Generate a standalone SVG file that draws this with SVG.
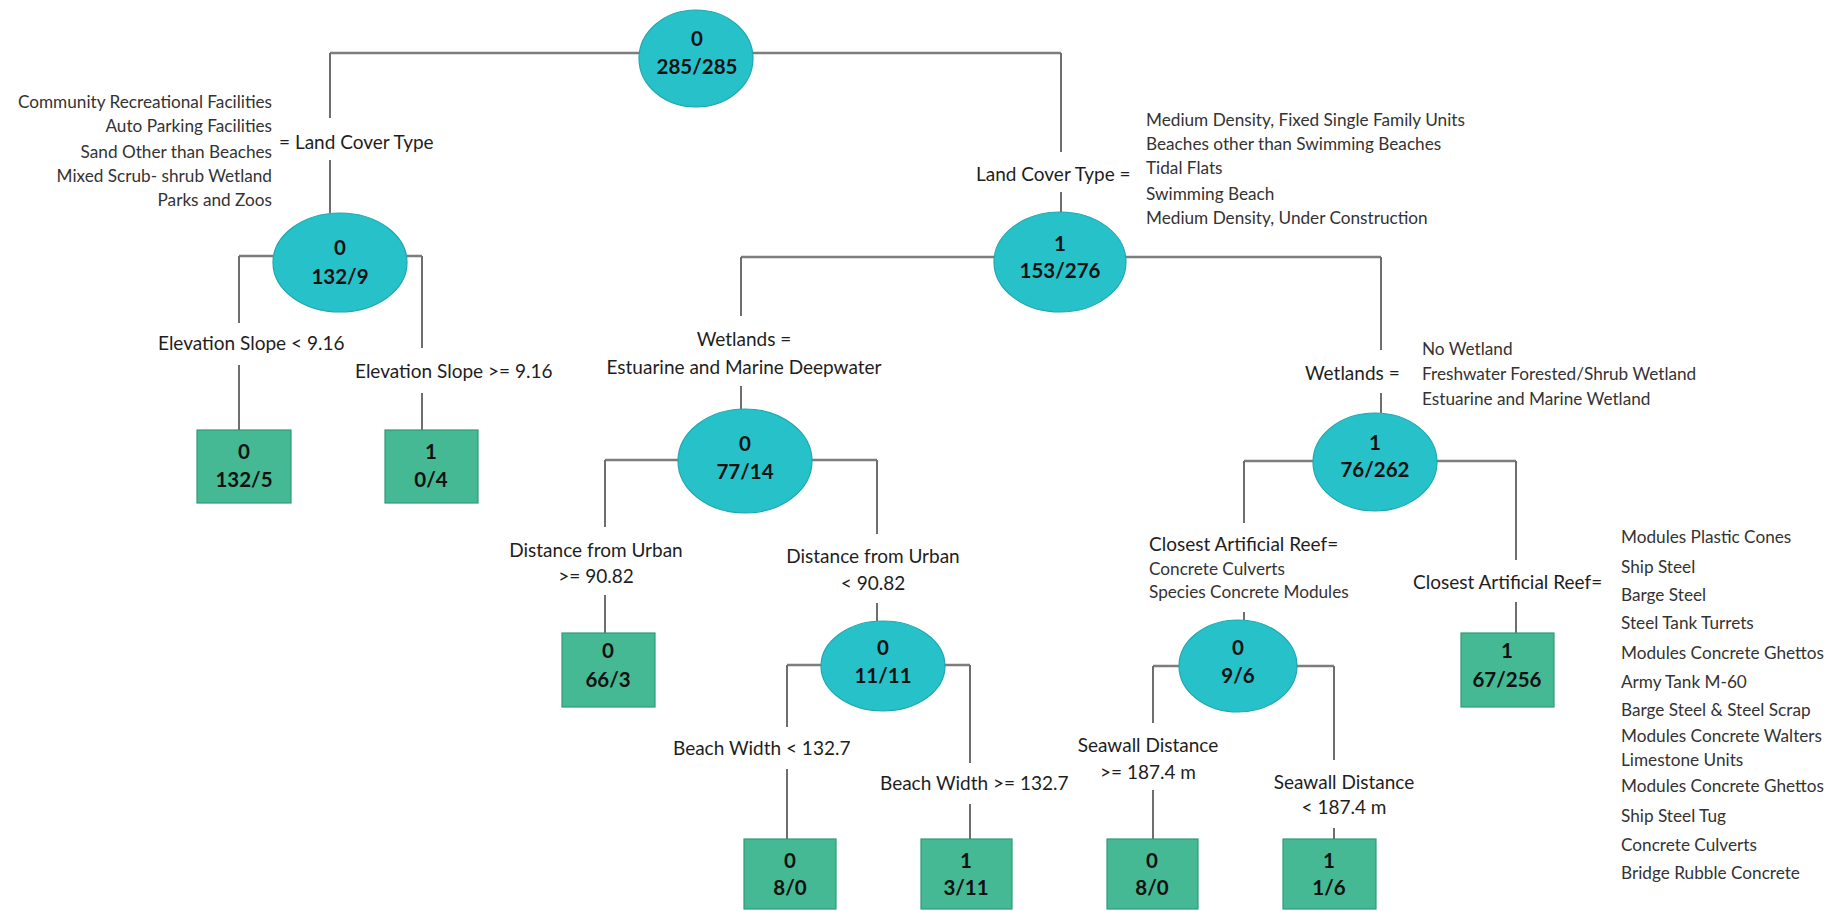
<svg xmlns="http://www.w3.org/2000/svg" width="1847" height="911" viewBox="0 0 1847 911">
<style>
.bg{fill:#ffffff}
.ln{stroke:#6e6e6e;stroke-width:2;fill:none}
.hl{stroke:#7d7d7d;stroke-width:2.6;fill:none}
.el{fill:#27C1C9;stroke:#1FA8AF;stroke-width:1.2}
.bx{fill:#45B894;stroke:#2E9B77;stroke-width:1.2}
.nt{font-family:Lato,"Liberation Sans",sans-serif;font-weight:bold;font-size:20.5px;fill:#111;text-anchor:middle}
.lb{font-family:Lato,"Liberation Sans",sans-serif;font-size:19px;fill:#1e1e1e}
.ls{font-family:Lato,"Liberation Sans",sans-serif;font-size:17.2px;fill:#333}
.m{text-anchor:middle}
.e{text-anchor:end}
</style>
<rect class="bg" x="0" y="0" width="1847" height="911"/>
<g id="connectors">
<path class="hl" d="M330 53H1061"/>
<path class="ln" d="M330 53V118M330 160V213M1061 53V152M1061 192V212"/>
<path class="hl" d="M239 256H422"/>
<path class="ln" d="M239 256V323M239 365V430M422 256V348M422 393V430"/>
<path class="hl" d="M741 257H1381"/>
<path class="ln" d="M741 257V316M741 386V410M1381 257V350M1381 393V413"/>
<path class="hl" d="M605 460H877"/>
<path class="ln" d="M605 460V527M605 595V633M877 460V534M877 603V621"/>
<path class="hl" d="M787 665H970"/>
<path class="ln" d="M787 665V727M787 769V839M970 665V763M970 804V839"/>
<path class="hl" d="M1244 461H1516"/>
<path class="ln" d="M1244 461V523M1244 612V620M1516 461V560M1516 602V633"/>
<path class="hl" d="M1153 666H1334"/>
<path class="ln" d="M1153 666V723M1153 790V839M1334 666V760M1334 828V839"/>
</g>
<g id="labels">
<text class="lb" x="279" y="149">= Land Cover Type</text>
<text class="ls e" x="272" y="108">Community Recreational Facilities</text>
<text class="ls e" x="272" y="132">Auto Parking Facilities</text>
<text class="ls e" x="272" y="158">Sand Other than Beaches</text>
<text class="ls e" x="272" y="182">Mixed Scrub- shrub Wetland</text>
<text class="ls e" x="272" y="206">Parks and Zoos</text>
<text class="lb" x="976" y="181">Land Cover Type =</text>
<text class="ls" x="1146" y="126">Medium Density, Fixed Single Family Units</text>
<text class="ls" x="1146" y="150">Beaches other than Swimming Beaches</text>
<text class="ls" x="1146" y="174">Tidal Flats</text>
<text class="ls" x="1146" y="200">Swimming Beach</text>
<text class="ls" x="1146" y="224">Medium Density, Under Construction</text>
<text class="lb" x="158" y="350">Elevation Slope &lt; 9.16</text>
<text class="lb" x="355" y="378">Elevation Slope &gt;= 9.16</text>
<text class="lb m" x="744" y="346">Wetlands =</text>
<text class="lb m" x="744" y="374">Estuarine and Marine Deepwater</text>
<text class="lb" x="1305" y="380">Wetlands =</text>
<text class="ls" x="1422" y="355">No Wetland</text>
<text class="ls" x="1422" y="380">Freshwater Forested/Shrub Wetland</text>
<text class="ls" x="1422" y="405">Estuarine and Marine Wetland</text>
<text class="lb m" x="596" y="557">Distance from Urban</text>
<text class="lb m" x="596" y="583">&gt;= 90.82</text>
<text class="lb m" x="873" y="563">Distance from Urban</text>
<text class="lb m" x="873" y="590">&lt; 90.82</text>
<text class="lb" x="673" y="755">Beach Width &lt; 132.7</text>
<text class="lb" x="880" y="790">Beach Width &gt;= 132.7</text>
<text class="lb" x="1149" y="551">Closest Artificial Reef=</text>
<text class="ls" x="1149" y="575">Concrete Culverts</text>
<text class="ls" x="1149" y="598">Species Concrete Modules</text>
<text class="lb m" x="1148" y="752">Seawall Distance</text>
<text class="lb m" x="1148" y="779">&gt;= 187.4 m</text>
<text class="lb m" x="1344" y="789">Seawall Distance</text>
<text class="lb m" x="1344" y="814">&lt; 187.4 m</text>
<text class="lb" x="1413" y="589">Closest Artificial Reef=</text>
<text class="ls" x="1621" y="543">Modules Plastic Cones</text>
<text class="ls" x="1621" y="573">Ship Steel</text>
<text class="ls" x="1621" y="601">Barge Steel</text>
<text class="ls" x="1621" y="629">Steel Tank Turrets</text>
<text class="ls" x="1621" y="659">Modules Concrete Ghettos</text>
<text class="ls" x="1621" y="688">Army Tank M-60</text>
<text class="ls" x="1621" y="716">Barge Steel &amp; Steel Scrap</text>
<text class="ls" x="1621" y="742">Modules Concrete Walters</text>
<text class="ls" x="1621" y="766">Limestone Units</text>
<text class="ls" x="1621" y="792">Modules Concrete Ghettos</text>
<text class="ls" x="1621" y="822">Ship Steel Tug</text>
<text class="ls" x="1621" y="851">Concrete Culverts</text>
<text class="ls" x="1621" y="879">Bridge Rubble Concrete</text>
</g>
<g id="n_root"><ellipse class="el" cx="696" cy="58.5" rx="57" ry="48.5"/><text class="nt" x="697" y="46">0</text><text class="nt" x="697" y="74">285/285</text></g>
<g id="n_l1"><ellipse class="el" cx="340" cy="262.5" rx="67" ry="49.5"/><text class="nt" x="340" y="255">0</text><text class="nt" x="340" y="284">132/9</text></g>
<g id="n_r1"><ellipse class="el" cx="1060" cy="262" rx="66" ry="50"/><text class="nt" x="1060" y="251">1</text><text class="nt" x="1060" y="278">153/276</text></g>
<g id="n_77"><ellipse class="el" cx="745" cy="461" rx="67" ry="52"/><text class="nt" x="745" y="451">0</text><text class="nt" x="745" y="479">77/14</text></g>
<g id="n_76"><ellipse class="el" cx="1375" cy="462" rx="62" ry="49"/><text class="nt" x="1375" y="450">1</text><text class="nt" x="1375" y="477">76/262</text></g>
<g id="n_11"><ellipse class="el" cx="883" cy="666" rx="62" ry="45"/><text class="nt" x="883" y="655">0</text><text class="nt" x="883" y="683">11/11</text></g>
<g id="n_96"><ellipse class="el" cx="1238" cy="666" rx="59" ry="46"/><text class="nt" x="1238" y="655">0</text><text class="nt" x="1238" y="683">9/6</text></g>
<g id="leaf_1325"><rect class="bx" x="197" y="430" width="94" height="73"/><text class="nt" x="244" y="459">0</text><text class="nt" x="244" y="487">132/5</text></g>
<g id="leaf_04"><rect class="bx" x="385" y="430" width="93" height="73"/><text class="nt" x="431" y="459">1</text><text class="nt" x="431" y="487">0/4</text></g>
<g id="leaf_663"><rect class="bx" x="562" y="633" width="93" height="74"/><text class="nt" x="608" y="658">0</text><text class="nt" x="608" y="687">66/3</text></g>
<g id="leaf_67256"><rect class="bx" x="1461" y="633" width="93" height="74"/><text class="nt" x="1507" y="658">1</text><text class="nt" x="1507" y="687">67/256</text></g>
<g id="leaf_80a"><rect class="bx" x="744" y="839" width="92" height="70"/><text class="nt" x="790" y="868">0</text><text class="nt" x="790" y="895">8/0</text></g>
<g id="leaf_311"><rect class="bx" x="921" y="839" width="91" height="70"/><text class="nt" x="966" y="868">1</text><text class="nt" x="966" y="895">3/11</text></g>
<g id="leaf_80b"><rect class="bx" x="1107" y="839" width="91" height="70"/><text class="nt" x="1152" y="868">0</text><text class="nt" x="1152" y="895">8/0</text></g>
<g id="leaf_16"><rect class="bx" x="1283" y="839" width="93" height="70"/><text class="nt" x="1329" y="868">1</text><text class="nt" x="1329" y="895">1/6</text></g>
</svg>
